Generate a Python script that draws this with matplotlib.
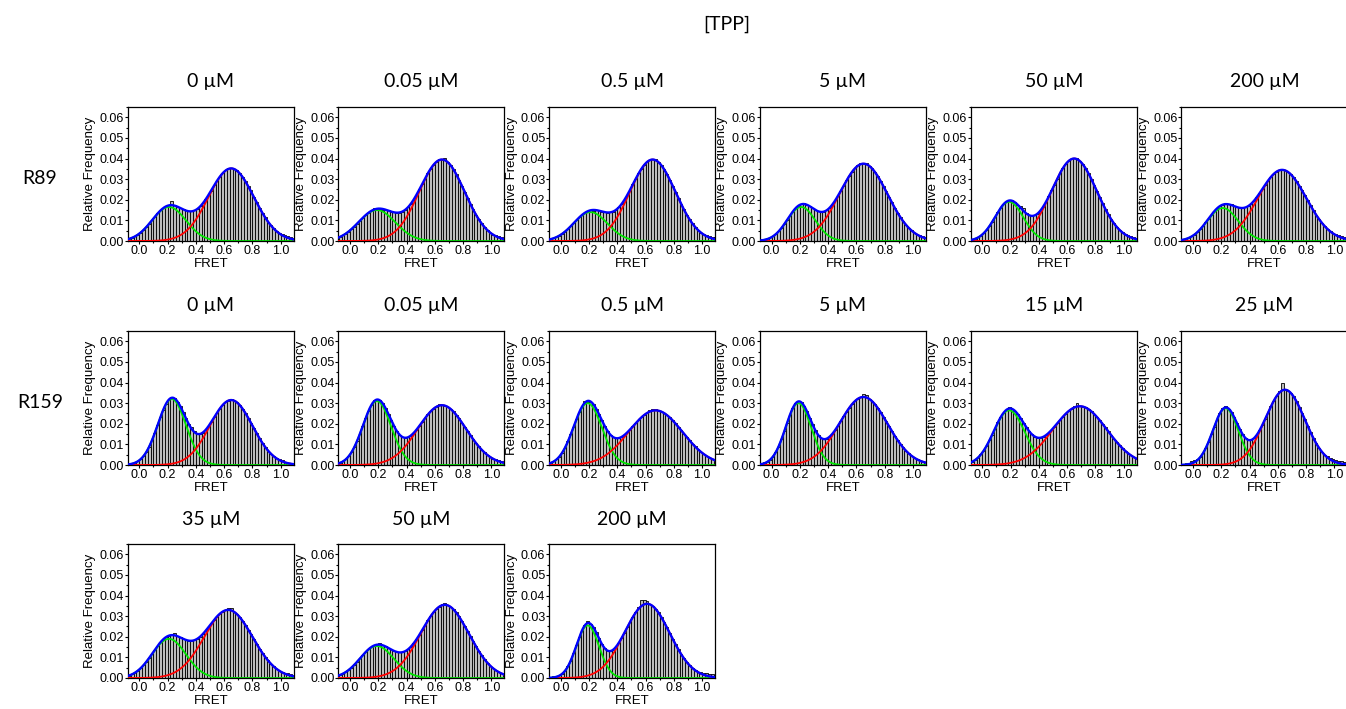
import numpy as np
import matplotlib
matplotlib.use("Agg")
import matplotlib.pyplot as plt
from matplotlib.ticker import MultipleLocator, FormatStrFormatter

# ---------------------------------------------------------------------------
# Data
# ---------------------------------------------------------------------------
# FRET histogram: 60 bins of width 0.02, centres -0.09 ... 1.09
BIN_WIDTH = 0.02
fret_bins = np.round(-0.09 + BIN_WIDTH * np.arange(60), 2)

r89_conc = ["0 µM", "0.05 µM", "0.5 µM", "5 µM", "50 µM", "200 µM"]
r159_conc = ["0 µM", "0.05 µM", "0.5 µM", "5 µM", "15 µM", "25 µM",
             "35 µM", "50 µM", "200 µM"]

# Relative frequency per bin, in units of 1e-4
r89_0uM = [7, 11, 16, 22, 31, 41, 54, 68, 83, 101,
           114, 134, 152, 160, 169, 173, 192, 176, 167, 160,
           154, 148, 144, 144, 148, 155, 172, 183, 203, 225,
           243, 271, 293, 312, 329, 346, 355, 356, 349, 345,
           328, 310, 290, 266, 246, 214, 187, 161, 134, 114,
           94, 76, 61, 48, 37, 33, 27, 22, 18, 15]
r89_005uM = [15, 20, 27, 36, 46, 57, 70, 84, 98, 112,
             125, 137, 146, 160, 156, 157, 150, 152, 148, 143,
             139, 137, 138, 142, 151, 164, 181, 201, 225, 250,
             276, 303, 328, 350, 369, 384, 398, 395, 402, 383,
             368, 348, 325, 298, 269, 240, 210, 181, 154, 128,
             105, 85, 68, 53, 41, 31, 28, 24, 20, 16]
r89_05uM = [6, 9, 13, 19, 26, 35, 46, 58, 71, 85,
            100, 114, 126, 136, 144, 149, 146, 149, 150, 143,
            140, 138, 139, 143, 151, 163, 180, 200, 223, 249,
            275, 302, 328, 350, 369, 383, 392, 400, 398, 383,
            368, 348, 325, 298, 269, 240, 210, 181, 154, 128,
            105, 85, 68, 53, 41, 35, 30, 26, 20, 17]
r89_5uM = [8, 10, 12, 15, 20, 22, 33, 47, 63, 82,
           102, 123, 143, 159, 172, 178, 186, 176, 169, 160,
           151, 144, 141, 143, 150, 160, 177, 197, 220, 244,
           269, 294, 316, 337, 353, 370, 380, 375, 378, 365,
           353, 336, 315, 293, 267, 241, 214, 188, 162, 138,
           117, 97, 79, 64, 51, 40, 31, 28, 22, 18]
r89_50uM = [4, 6, 11, 17, 26, 38, 53, 71, 93, 115,
            139, 161, 178, 190, 196, 200, 188, 177, 168, 160,
            135, 125, 122, 124, 133, 147, 167, 189, 216, 245,
            274, 302, 329, 353, 373, 388, 397, 405, 404, 388,
            373, 353, 329, 302, 273, 243, 212, 183, 156, 130,
            107, 86, 69, 54, 42, 32, 28, 23, 17, 13]
r89_200uM = [4, 6, 10, 15, 22, 31, 43, 57, 73, 90,
             109, 128, 144, 159, 169, 176, 186, 178, 180, 170,
             165, 161, 160, 163, 169, 180, 195, 212, 231, 252,
             273, 292, 310, 325, 336, 343, 345, 343, 336, 324,
             309, 290, 269, 246, 221, 197, 173, 149, 127, 107,
             89, 73, 59, 47, 37, 33, 28, 24, 20, 16]

r159_0uM = [2, 4, 6, 11, 18, 28, 43, 63, 89, 120,
            156, 194, 233, 269, 298, 318, 330, 323, 308, 285,
            256, 226, 199, 185, 166, 151, 150, 157, 171, 189,
            210, 233, 254, 274, 291, 304, 312, 320, 312, 304,
            291, 273, 252, 229, 204, 178, 153, 129, 107, 88,
            70, 55, 43, 32, 30, 26, 16, 12, 9, 7]
r159_005uM = [6, 11, 17, 28, 42, 61, 86, 116, 152, 189,
              227, 262, 290, 315, 322, 314, 300, 277, 249, 219,
              190, 165, 147, 136, 132, 135, 143, 156, 172, 189,
              208, 227, 245, 260, 273, 282, 296, 290, 288, 282,
              273, 260, 244, 226, 206, 186, 166, 145, 126, 107,
              90, 75, 61, 49, 39, 31, 27, 22, 17, 14]
r159_05uM = [6, 10, 17, 27, 41, 59, 84, 114, 148, 185,
             221, 256, 283, 310, 306, 308, 295, 274, 247, 218,
             190, 167, 147, 135, 131, 131, 136, 146, 158, 172,
             188, 203, 218, 231, 242, 252, 268, 270, 272, 263,
             259, 252, 242, 231, 217, 202, 186, 169, 152, 136,
             119, 104, 90, 76, 64, 54, 44, 36, 29, 23]
r159_5uM = [8, 10, 14, 15, 25, 41, 62, 89, 124, 163,
            204, 243, 276, 299, 312, 305, 288, 261, 229, 197,
            168, 145, 132, 126, 128, 137, 152, 170, 190, 213,
            236, 257, 278, 295, 310, 321, 328, 342, 340, 321,
            310, 295, 278, 257, 235, 212, 188, 165, 143, 122,
            103, 85, 70, 56, 45, 35, 30, 25, 20, 16]
r159_15uM = [10, 16, 25, 36, 51, 69, 92, 119, 147, 177,
             207, 232, 253, 268, 282, 273, 263, 248, 229, 206,
             184, 165, 150, 138, 133, 132, 137, 144, 156, 170,
             186, 202, 218, 234, 248, 261, 271, 284, 300, 285,
             283, 279, 271, 261, 248, 233, 217, 200, 182, 164,
             146, 128, 112, 96, 82, 69, 58, 47, 38, 31]
r159_25uM = [5, 7, 9, 12, 17, 22, 30, 37, 57, 82,
             113, 148, 186, 221, 251, 278, 285, 274, 258, 233,
             204, 175, 150, 131, 122, 121, 129, 145, 168, 194,
             224, 254, 284, 311, 333, 358, 398, 365, 361, 350,
             333, 310, 283, 253, 222, 190, 160, 131, 106, 84,
             65, 49, 44, 36, 30, 25, 21, 18, 15, 12]
r159_35uM = [8, 12, 18, 26, 35, 47, 63, 79, 97, 117,
             137, 156, 174, 188, 199, 206, 208, 218, 203, 197,
             190, 185, 181, 181, 184, 190, 200, 214, 230, 247,
             265, 283, 298, 312, 322, 328, 338, 340, 321, 310,
             295, 278, 257, 235, 212, 188, 165, 143, 122, 103,
             85, 70, 56, 45, 35, 27, 26, 22, 20, 16]
r159_50uM = [10, 15, 21, 29, 39, 50, 64, 78, 95, 111,
             126, 139, 150, 158, 162, 168, 159, 154, 146, 139,
             132, 126, 124, 125, 131, 139, 152, 169, 188, 210,
             232, 256, 279, 300, 319, 334, 345, 358, 362, 353,
             345, 334, 318, 299, 277, 253, 228, 203, 178, 154,
             131, 110, 92, 75, 60, 48, 38, 29, 22, 17]
r159_200uM = [4, 6, 8, 10, 14, 20, 34, 56, 84, 119,
              158, 197, 231, 255, 278, 263, 246, 222, 193, 166,
              145, 133, 130, 137, 151, 171, 194, 220, 247, 272,
              296, 318, 345, 378, 380, 372, 357, 349, 336, 318,
              296, 272, 246, 219, 191, 165, 140, 117, 96, 78,
              62, 49, 38, 29, 30, 26, 22, 20, 18, 16]

r89_hist = [r89_0uM, r89_005uM, r89_05uM, r89_5uM, r89_50uM, r89_200uM]
r159_hist = [r159_0uM, r159_005uM, r159_05uM, r159_5uM, r159_15uM,
             r159_25uM, r159_35uM, r159_50uM, r159_200uM]

# Two-state Gaussian fits (amplitude per bin, centre, width)
r89_low_amp = [0.0165, 0.0150, 0.0140, 0.0165, 0.0190, 0.0160]
r89_low_center = [0.21, 0.19, 0.21, 0.21, 0.19, 0.21]
r89_low_width = [0.12, 0.13, 0.12, 0.10, 0.10, 0.11]
r89_high_amp = [0.0352, 0.0395, 0.0395, 0.0375, 0.0400, 0.0345]
r89_high_center = [0.65, 0.65, 0.65, 0.65, 0.65, 0.63]
r89_high_width = [0.16, 0.16, 0.16, 0.17, 0.16, 0.17]

r159_low_amp = [0.0320, 0.0310, 0.0300, 0.0300, 0.0265, 0.0275, 0.0190, 0.0155, 0.0255]
r159_low_center = [0.23, 0.19, 0.19, 0.19, 0.19, 0.23, 0.21, 0.19, 0.19]
r159_low_width = [0.10, 0.10, 0.10, 0.09, 0.11, 0.09, 0.12, 0.12, 0.08]
r159_high_amp = [0.0315, 0.0290, 0.0265, 0.0330, 0.0285, 0.0365, 0.0330, 0.0355, 0.0360]
r159_high_center = [0.65, 0.65, 0.67, 0.65, 0.69, 0.65, 0.63, 0.67, 0.61]
r159_high_width = [0.15, 0.17, 0.19, 0.17, 0.19, 0.14, 0.17, 0.17, 0.16]

# ---------------------------------------------------------------------------
# Style
# ---------------------------------------------------------------------------
plt.rcParams["font.family"] = ["Liberation Sans", "DejaVu Sans"]
HEAD_FONT = ["Lato", "DejaVu Sans"]

W, H = 1346, 709
AX_W, AX_H = 166, 134
COL_X = [127.7 + 210.75 * c for c in range(6)]
ROW_Y = [107, 331, 544]

fig = plt.figure(figsize=(W / 100, H / 100), dpi=100)


def gauss(x, amp, mu, sd):
    return amp * np.exp(-(x - mu) ** 2 / (2 * sd ** 2))


def draw_panel(row, col, title, hist, lo, hi):
    x0, y0 = COL_X[col], ROW_Y[row]
    ax = fig.add_axes([x0 / W, 1 - (y0 + AX_H) / H, AX_W / W, AX_H / H])
    ax.bar(fret_bins, np.asarray(hist) / 1e4, width=BIN_WIDTH,
           color="#bdbdbd", edgecolor="black", linewidth=0.6, zorder=1)
    xs = np.linspace(-0.1, 1.1, 600)
    g_lo = gauss(xs, *lo)
    g_hi = gauss(xs, *hi)
    ax.plot(xs, g_lo, color="#00e600", lw=1.3, zorder=2)
    ax.plot(xs, g_hi, color="#ff0000", lw=1.3, zorder=3)
    ax.plot(xs, g_lo + g_hi, color="#0000ff", lw=1.7, zorder=4)

    ax.set_xlim(-0.082, 1.092)
    ax.set_ylim(0, 0.065)
    ax.xaxis.set_major_locator(MultipleLocator(0.2))
    ax.xaxis.set_minor_locator(MultipleLocator(0.1))
    ax.yaxis.set_major_locator(MultipleLocator(0.01))
    ax.yaxis.set_minor_locator(MultipleLocator(0.005))
    ax.xaxis.set_major_formatter(FormatStrFormatter("%.1f"))
    ax.yaxis.set_major_formatter(FormatStrFormatter("%.2f"))
    ax.tick_params(which="both", direction="out", top=False, right=False,
                   labelsize=9, pad=0.6, width=0.8)
    ax.tick_params(which="major", length=2.2)
    ax.tick_params(which="minor", length=1.2)
    for sp in ax.spines.values():
        sp.set_linewidth(0.9)

    ax.set_ylabel("Relative Frequency", fontsize=9.5)
    ax.yaxis.set_label_coords(-0.19, 0.5)
    ax.set_xlabel("FRET", fontsize=9.5)
    ax.xaxis.set_label_coords(0.5, -0.126)
    ax.text(0.5, 1 + 25 / AX_H, title, transform=ax.transAxes,
            ha="center", va="center", fontsize=14, family=HEAD_FONT)
    return ax


for k, (name, hist) in enumerate(zip(r89_conc, r89_hist)):
    draw_panel(0, k, name, hist,
               (r89_low_amp[k], r89_low_center[k], r89_low_width[k]),
               (r89_high_amp[k], r89_high_center[k], r89_high_width[k]))

for k, (name, hist) in enumerate(zip(r159_conc, r159_hist)):
    row, col = 1 + k // 6, k % 6
    draw_panel(row, col, name, hist,
               (r159_low_amp[k], r159_low_center[k], r159_low_width[k]),
               (r159_high_amp[k], r159_high_center[k], r159_high_width[k]))

fig.text(727 / W, 1 - 24 / H, "[TPP]", ha="center", va="center",
         fontsize=14, family=HEAD_FONT)
fig.text(40 / W, 1 - 179 / H, "R89", ha="center", va="center",
         fontsize=14, family=HEAD_FONT)
fig.text(40 / W, 1 - 403 / H, "R159", ha="center", va="center",
         fontsize=14, family=HEAD_FONT)

fig.savefig("out.png", dpi=100)
